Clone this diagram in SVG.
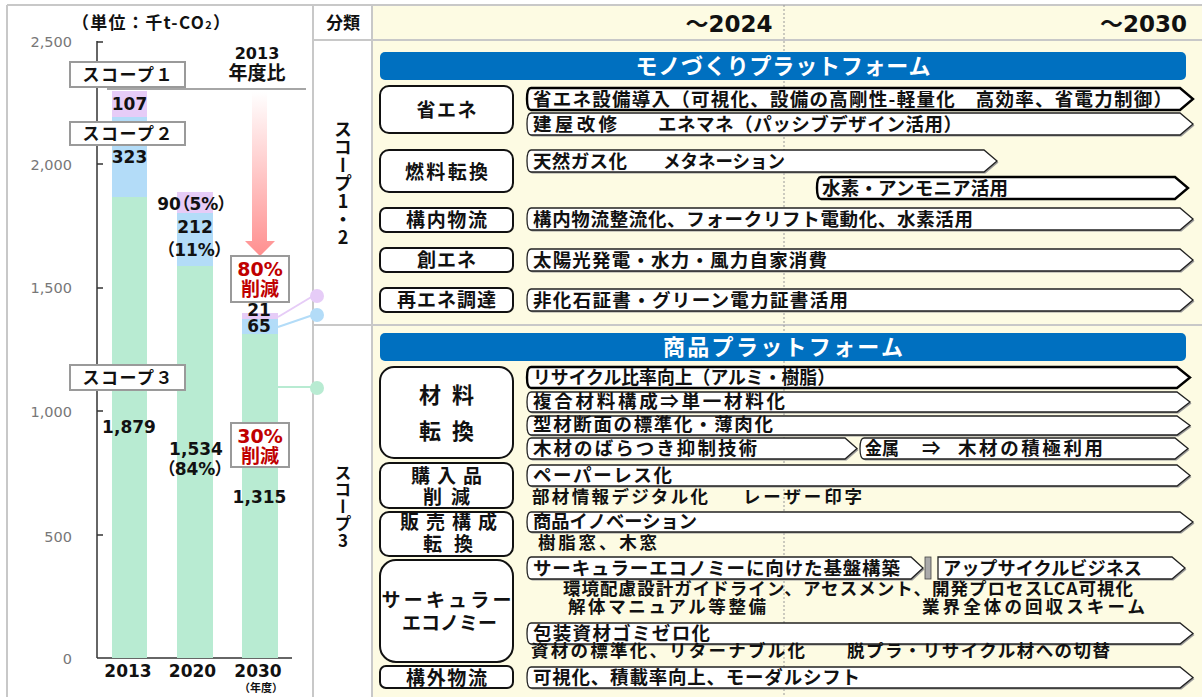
<svg xmlns="http://www.w3.org/2000/svg" width="1202" height="697" viewBox="0 0 1202 697">
<defs>
<style>
.jp{font-family:"Noto Sans CJK JP","Noto Sans CJK SC",sans-serif;font-weight:700;fill:#111}
.num{font-family:"DejaVu Sans","Noto Sans CJK JP",sans-serif;font-weight:700;fill:#111;font-feature-settings:"palt"}
.ax{font-family:"DejaVu Sans",sans-serif;font-size:14.5px;fill:#777}
.bt{font-size:18.5px}
.pt{font-size:17.5px}
.ct{font-size:19px}
.cat{fill:#fff;stroke:#111;stroke-width:2}
.bar{fill:#fff;stroke:#222;stroke-width:1.3}
.barB{fill:#fff;stroke:#000;stroke-width:2.4}
.sh{fill:#9a9a9a}
.grid{stroke:#c8c8c8;stroke-width:2;fill:none}
.lbl{fill:#fff;stroke:#9a9a9a;stroke-width:2}
.red{fill:#c00000}
.pu{fill:#e6ccf7}.bl{fill:#b3dcf8}.gr{fill:#b8ebd2}
.plat{fill:#0070c0}
.wt{fill:#fff;font-size:22px}
</style>
<linearGradient id="rg" x1="0" y1="0" x2="0" y2="1">
<stop offset="0" stop-color="#ffffff"/><stop offset="1" stop-color="#ff8f8f"/>
</linearGradient>
<path id="b1" d="M531,88H1180L1193,99L1180,110H531Q527,110 527,99Q527,88 531,88Z"/>
<path id="b2" d="M531,113H1180L1193,124L1180,135H531Q527,135 527,124Q527,113 531,113Z"/>
<path id="b3" d="M531,150H984L997,161L984,172H531Q527,172 527,161Q527,150 531,150Z"/>
<path id="b4" d="M821,177H1175L1188,188L1175,199H821Q817,199 817,188Q817,177 821,177Z"/>
<path id="b5" d="M531,208H1180L1193,219L1180,230H531Q527,230 527,219Q527,208 531,208Z"/>
<path id="b6" d="M531,249H1180L1193,260L1180,271H531Q527,271 527,260Q527,249 531,249Z"/>
<path id="b7" d="M531,289H1180L1193,300L1180,311H531Q527,311 527,300Q527,289 531,289Z"/>
<path id="b8" d="M531,367H1177L1190,377.5L1177,388H531Q527,388 527,377.5Q527,367 531,367Z"/>
<path id="b9" d="M531,392H1177L1190,402L1177,412H531Q527,412 527,402Q527,392 531,392Z"/>
<path id="b10" d="M531,416H1177L1190,425.5L1177,435H531Q527,435 527,425.5Q527,416 531,416Z"/>
<path id="b11" d="M531,438H845L857,448.5L845,459H531Q527,459 527,448.5Q527,438 531,438Z"/>
<path id="b12" d="M864,438H1175L1188,448.5L1175,459H864Q860,459 860,448.5Q860,438 864,438Z"/>
<path id="b13" d="M531,465H1177L1190,475.5L1177,486H531Q527,486 527,475.5Q527,465 531,465Z"/>
<path id="b14" d="M531,512H1180L1193,522L1180,532H531Q527,532 527,522Q527,512 531,512Z"/>
<path id="b15" d="M531,557H911L923,568L911,579H531Q527,579 527,568Q527,557 531,557Z"/>
<path id="b16" d="M938,557H1172L1185,568L1172,579H938Z"/>
<path id="b17" d="M531,623H1180L1193,633.5L1180,644H531Q527,644 527,633.5Q527,623 531,623Z"/>
<path id="b18" d="M531,667H1180L1193,677.5L1180,688H531Q527,688 527,677.5Q527,667 531,667Z"/>
</defs>

<rect x="0" y="0" width="1202" height="697" fill="#fff"/>

<!-- table frame -->
<g id="table-frame">
<rect x="372" y="5" width="830" height="692" fill="#fdfbe3"/>
<line class="grid" x1="7" y1="5" x2="1202" y2="5"/>
<line class="grid" x1="7" y1="5" x2="7" y2="697"/>
<line class="grid" x1="313" y1="5" x2="313" y2="697"/>
<line class="grid" x1="372" y1="5" x2="372" y2="697"/>
<line class="grid" x1="313" y1="40" x2="1202" y2="40"/>
<line class="grid" x1="313" y1="325" x2="1202" y2="325"/>
<line x1="784" y1="5" x2="784" y2="697" stroke="#999" stroke-width="1" stroke-dasharray="2,2"/>
<text class="jp" x="343" y="29" font-size="17" text-anchor="middle">分類</text>
<text class="num" x="729" y="32" font-size="23" text-anchor="middle"><tspan font-family="Noto Sans CJK JP, sans-serif">～</tspan>2024</text>
<text class="num" x="1187" y="32" font-size="23" text-anchor="end"><tspan font-family="Noto Sans CJK JP, sans-serif">～</tspan>2030</text>
<text class="jp" x="343" y="183" font-size="18" text-anchor="middle" style="writing-mode:vertical-rl;text-orientation:upright">スコープ1・2</text>
<text class="jp" x="343" y="507" font-size="17" text-anchor="middle" style="writing-mode:vertical-rl;text-orientation:upright">スコープ3</text>
</g>

<!-- chart -->
<g id="chart">
<text class="jp" x="151" y="29" font-size="17" text-anchor="middle" textLength="158">（単位：千t-CO<tspan font-size="11">2</tspan>）</text>
<g class="ax" text-anchor="end">
<text x="72" y="47">2,500</text>
<text x="72" y="170">2,000</text>
<text x="72" y="293">1,500</text>
<text x="72" y="417">1,000</text>
<text x="72" y="542">500</text>
<text x="72" y="664">0</text>
</g>
<g stroke="#333" stroke-width="1.5">
<line x1="97" y1="41" x2="97" y2="658"/>
<line x1="97" y1="658" x2="292" y2="658"/>
<line x1="97" y1="42" x2="103" y2="42"/>
<line x1="97" y1="164" x2="103" y2="164"/>
<line x1="97" y1="288" x2="103" y2="288"/>
<line x1="97" y1="411" x2="103" y2="411"/>
<line x1="97" y1="535" x2="103" y2="535"/>
</g>
<rect class="pu" x="112" y="91" width="35" height="26"/>
<rect class="bl" x="112" y="117" width="35" height="80"/>
<rect class="gr" x="112" y="197" width="35" height="461"/>
<rect class="pu" x="177" y="192" width="36" height="21"/>
<rect class="bl" x="177" y="213" width="36" height="53"/>
<rect class="gr" x="177" y="266" width="36" height="392"/>
<rect class="pu" x="242" y="313" width="36" height="6"/>
<rect class="bl" x="242" y="319" width="36" height="15"/>
<rect class="gr" x="242" y="334" width="36" height="324"/>
<line x1="107" y1="89" x2="306" y2="89" stroke="#888" stroke-width="1.5"/>
<rect class="lbl" x="70" y="62" width="115" height="25"/>
<text class="jp" x="127.5" y="81" font-size="17" text-anchor="middle" textLength="90">スコープ１</text>
<rect class="lbl" x="70" y="122" width="115" height="23"/>
<text class="jp" x="127.5" y="140" font-size="17" text-anchor="middle" textLength="90">スコープ２</text>
<rect class="lbl" x="70" y="365" width="115" height="25"/>
<text class="jp" x="127.5" y="384" font-size="17" text-anchor="middle" textLength="90">スコープ３</text>
<text class="num" x="257" y="59" font-size="16" text-anchor="middle">2013</text>
<text class="jp" x="257" y="80" font-size="19" text-anchor="middle">年度比</text>
<path d="M252,92H267V241H275L260,256L245,241H252Z" fill="url(#rg)"/>
<rect class="lbl" x="231" y="256" width="58" height="46"/>
<text class="num red" x="260" y="276" font-size="19" text-anchor="middle">80%</text>
<text class="jp red" x="260" y="296" font-size="19" text-anchor="middle">削減</text>
<rect class="lbl" x="231" y="423" width="58" height="44"/>
<text class="num red" x="260" y="443" font-size="19" text-anchor="middle">30%</text>
<text class="jp red" x="260" y="463" font-size="19" text-anchor="middle">削減</text>
<g class="num" font-size="17" text-anchor="middle">
<text x="129.5" y="110">107</text>
<text x="129.5" y="163">323</text>
<text x="192" y="210">90（5%）</text>
<text x="195" y="233">212</text>
<text x="194.5" y="256">（11%）</text>
<text x="259" y="316">21</text>
<text x="259" y="332">65</text>
<text x="129" y="433">1,879</text>
<text x="196" y="455">1,534</text>
<text x="195" y="475">（84%）</text>
<text x="259.5" y="503">1,315</text>
<text x="128" y="677">2013</text>
<text x="192.5" y="677">2020</text>
<text x="258" y="677">2030</text>
</g>
<text class="jp" x="261" y="692" font-size="11" text-anchor="middle">（年度）</text>
</g>

<!-- connectors -->
<g id="connectors">
<line x1="278" y1="317" x2="313" y2="296" stroke="#e6ccf7" stroke-width="2"/>
<line x1="278" y1="327" x2="313" y2="315" stroke="#b3dcf8" stroke-width="2"/>
<line x1="278" y1="387" x2="313" y2="387" stroke="#b8ebd2" stroke-width="2"/>
<circle class="pu" cx="317" cy="296" r="7"/>
<circle class="bl" cx="317" cy="315" r="7"/>
<circle class="gr" cx="317" cy="388" r="7"/>
</g>

<!-- platform headers -->
<g id="mono-platform">
<rect class="plat" x="380" y="52" width="806" height="28" rx="5"/>
<text class="jp wt" x="783" y="74" text-anchor="middle" textLength="295">モノづくりプラットフォーム</text>
</g>
<g id="shohin-platform">
<rect class="plat" x="380" y="333" width="806" height="28" rx="5"/>
<text class="jp wt" x="783" y="355" text-anchor="middle" textLength="240">商品プラットフォーム</text>
</g>

<!-- Scope 1-2 -->
<g id="shoene">
<rect class="cat" x="380" y="86" width="133" height="47" rx="9"/>
<text class="jp ct" x="446.5" y="117" text-anchor="middle" textLength="60">省エネ</text>
<use href="#b1" class="barB"/>
<text class="jp bt" x="533" y="106" textLength="639">省エネ設備導入（可視化、設備の高剛性-軽量化　高効率、省電力制御）</text>
<use href="#b2" class="sh" transform="translate(1.5,1.5)"/><use href="#b2" class="bar"/>
<text class="jp bt" x="533" y="131" textLength="84">建屋改修</text>
<text class="jp bt" x="658" y="131" textLength="304">エネマネ（パッシブデザイン活用）</text>
</g>
<g id="nenryo">
<rect class="cat" x="380" y="150" width="133" height="42" rx="9"/>
<text class="jp ct" x="446.5" y="179" text-anchor="middle" textLength="83">燃料転換</text>
<use href="#b3" class="sh" transform="translate(1.5,1.5)"/><use href="#b3" class="bar"/>
<text class="jp bt" x="533" y="168" textLength="94">天然ガス化</text>
<text class="jp bt" x="663" y="168" textLength="122" lengthAdjust="spacingAndGlyphs">メタネーション</text>
<use href="#b4" class="barB"/>
<text class="jp bt" x="822" y="195" textLength="186">水素・アンモニア活用</text>
</g>
<g id="konai">
<rect class="cat" x="380" y="208" width="133" height="24" rx="6"/>
<text class="jp ct" x="446.5" y="227" text-anchor="middle" textLength="81">構内物流</text>
<use href="#b5" class="sh" transform="translate(1.5,1.5)"/><use href="#b5" class="bar"/>
<text class="jp bt" x="533" y="226" textLength="440">構内物流整流化、フォークリフト電動化、水素活用</text>
</g>
<g id="soene">
<rect class="cat" x="380" y="248" width="133" height="24" rx="6"/>
<text class="jp ct" x="446.5" y="267" text-anchor="middle" textLength="59">創エネ</text>
<use href="#b6" class="sh" transform="translate(1.5,1.5)"/><use href="#b6" class="bar"/>
<text class="jp bt" x="533" y="267" textLength="294">太陽光発電・水力・風力自家消費</text>
</g>
<g id="saiene">
<rect class="cat" x="380" y="288" width="133" height="24" rx="6"/>
<text class="jp ct" x="446.5" y="307" text-anchor="middle" textLength="99">再エネ調達</text>
<use href="#b7" class="sh" transform="translate(1.5,1.5)"/><use href="#b7" class="bar"/>
<text class="jp bt" x="533" y="307" textLength="315">非化石証書・グリーン電力証書活用</text>
</g>

<!-- Scope 3 -->
<g id="zairyo">
<rect class="cat" x="380" y="367" width="133" height="91" rx="14"/>
<text class="jp" x="446.5" y="403" font-size="22" text-anchor="middle" textLength="55">材料</text>
<text class="jp" x="446.5" y="439" font-size="22" text-anchor="middle" textLength="55">転換</text>
<use href="#b8" class="barB"/>
<text class="jp bt" x="533" y="384" textLength="302" lengthAdjust="spacingAndGlyphs">リサイクル比率向上（アルミ・樹脂）</text>
<use href="#b9" class="sh" transform="translate(1.5,1.5)"/><use href="#b9" class="bar"/>
<text class="jp bt" x="533" y="408" textLength="252">複合材料構成⇒単一材料化</text>
<use href="#b10" class="sh" transform="translate(1.5,1.5)"/><use href="#b10" class="bar"/>
<text class="jp bt" x="533" y="431" textLength="240">型材断面の標準化・薄肉化</text>
<use href="#b11" class="sh" transform="translate(1.5,1.5)"/><use href="#b11" class="bar"/>
<text class="jp bt" x="533" y="455" textLength="224">木材のばらつき抑制技術</text>
<use href="#b12" class="sh" transform="translate(1.5,1.5)"/><use href="#b12" class="bar"/>
<text class="jp bt" x="865" y="455" textLength="34" lengthAdjust="spacingAndGlyphs">金属</text>
<text class="jp bt" x="922" y="455">⇒</text>
<text class="jp bt" x="958" y="455" textLength="145">木材の積極利用</text>
</g>
<g id="konyu">
<rect class="cat" x="380" y="463" width="133" height="45" rx="9"/>
<text class="jp ct" x="446.5" y="483" text-anchor="middle" textLength="71">購入品</text>
<text class="jp ct" x="446.5" y="504" text-anchor="middle" textLength="47">削減</text>
<use href="#b13" class="sh" transform="translate(1.5,1.5)"/><use href="#b13" class="bar"/>
<text class="jp bt" x="533" y="482" textLength="139">ペーパーレス化</text>
<text class="jp pt" x="532" y="503" textLength="176">部材情報デジタル化</text>
<text class="jp pt" x="743" y="503" textLength="119">レーザー印字</text>
</g>
<g id="hanbai">
<rect class="cat" x="380" y="512" width="133" height="44" rx="9"/>
<text class="jp ct" x="448.5" y="529" text-anchor="middle" textLength="97">販売構成</text>
<text class="jp ct" x="448" y="551" text-anchor="middle" textLength="50">転換</text>
<use href="#b14" class="sh" transform="translate(1.5,1.5)"/><use href="#b14" class="bar"/>
<text class="jp bt" x="533" y="528" textLength="164" lengthAdjust="spacingAndGlyphs">商品イノベーション</text>
<text class="jp pt" x="538" y="549" textLength="119">樹脂窓、木窓</text>
</g>
<g id="circular">
<rect class="cat" x="380" y="560" width="133" height="102" rx="16"/>
<text class="jp" x="446.5" y="607" font-size="19" text-anchor="middle" textLength="130">サーキュラー</text>
<text class="jp" x="449.5" y="630" font-size="19" text-anchor="middle" textLength="95">エコノミー</text>
<use href="#b15" class="sh" transform="translate(1.5,1.5)"/><use href="#b15" class="bar"/>
<text class="jp bt" x="533" y="575" textLength="367">サーキュラーエコノミーに向けた基盤構築</text>
<rect x="925" y="557" width="6" height="22" fill="#aaa" stroke="#444" stroke-width="0.8"/>
<use href="#b16" class="sh" transform="translate(1.5,1.5)"/><use href="#b16" class="bar"/>
<text class="jp bt" x="943" y="575" textLength="199" lengthAdjust="spacingAndGlyphs">アップサイクルビジネス</text>
<text class="jp pt" x="563" y="595" textLength="570">環境配慮設計ガイドライン、アセスメント、開発プロセスLCA可視化</text>
<text class="jp pt" x="568" y="613" textLength="198">解体マニュアル等整備</text>
<text class="jp pt" x="922" y="613" textLength="223">業界全体の回収スキーム</text>
<use href="#b17" class="sh" transform="translate(1.5,1.5)"/><use href="#b17" class="bar"/>
<text class="jp bt" x="533" y="640" textLength="177">包装資材ゴミゼロ化</text>
<text class="jp pt" x="531" y="657" textLength="274">資材の標準化、リターナブル化</text>
<text class="jp pt" x="847" y="657" textLength="263">脱プラ・リサイクル材への切替</text>
</g>
<g id="kogai">
<rect class="cat" x="380" y="666" width="133" height="22" rx="6"/>
<text class="jp ct" x="446.5" y="685" text-anchor="middle" textLength="81">構外物流</text>
<use href="#b18" class="sh" transform="translate(1.5,1.5)"/><use href="#b18" class="bar"/>
<text class="jp bt" x="533" y="684" textLength="327">可視化、積載率向上、モーダルシフト</text>
</g>
</svg>
